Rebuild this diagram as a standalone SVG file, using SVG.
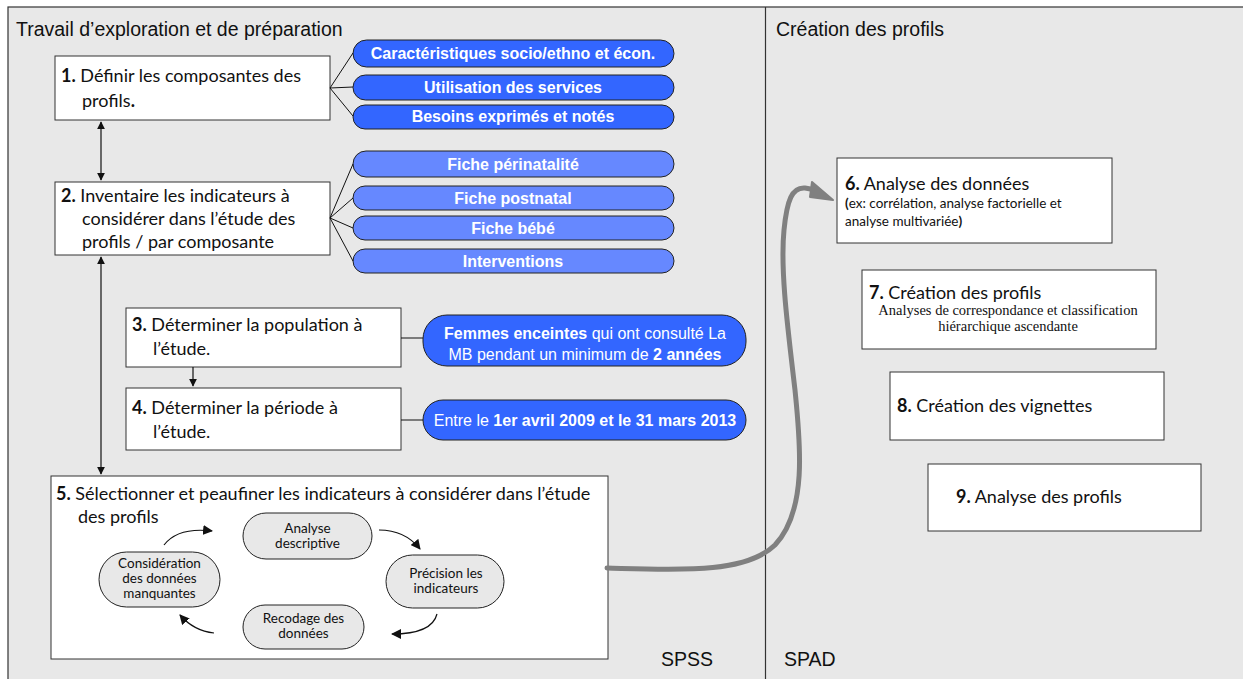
<svg xmlns="http://www.w3.org/2000/svg" width="1243" height="679" viewBox="0 0 1243 679">
<style>
.box{fill:#fff;stroke:#333;stroke-width:1}
.pd{fill:#3366ff;stroke:#222;stroke-width:1}
.pl{fill:#6688ff;stroke:#222;stroke-width:1}
.ov{fill:#e8e8e8;stroke:#222;stroke-width:1}
.t{font-family:Lato,"Open Sans",sans-serif;font-size:18px;fill:#111}
.ts{font-family:Lato,"Open Sans",sans-serif;font-size:13.5px;fill:#111}
.to{font-family:Lato,"Open Sans",sans-serif;font-size:13.5px;fill:#111;text-anchor:middle}
.pt{font-family:"Liberation Sans",Arial,sans-serif;font-size:16px;font-weight:bold;fill:#fff;text-anchor:middle}
.pn{font-family:"Liberation Sans",Arial,sans-serif;font-size:16px;fill:#fff;text-anchor:middle}
.h{font-family:"Liberation Sans",Arial,sans-serif;font-size:19.5px;fill:#111}
.serif{font-family:"Liberation Serif","Times New Roman",serif;font-size:14.5px;fill:#111;text-anchor:middle}
.ln{stroke:#111;stroke-width:1;fill:none}
.ar{stroke:#111;stroke-width:1.2;fill:none}
</style>
<defs>
<marker id="ah" viewBox="0 0 10 10" refX="9" refY="5" markerWidth="8" markerHeight="8" markerUnits="userSpaceOnUse" orient="auto-start-reverse">
<path d="M0,0 L10,5 L0,10 z" fill="#111"/>
</marker>
<marker id="ah2" viewBox="0 0 10 10" refX="9" refY="5" markerWidth="10" markerHeight="10" markerUnits="userSpaceOnUse" orient="auto">
<path d="M0,0 L10,5 L0,10 z" fill="#111"/>
</marker>
</defs>
<rect x="0" y="0" width="1243" height="679" fill="#fff"/>
<rect x="8" y="7" width="1240" height="680" fill="#e8e8e8" stroke="#333" stroke-width="1.2"/>
<line x1="765.5" y1="7" x2="765.5" y2="679" stroke="#333" stroke-width="1.2"/>
<text class="h" x="16" y="36">Travail d’exploration et de préparation</text>
<text class="h" x="776" y="36">Création des profils</text>
<text class="h" x="661" y="666">SPSS</text>
<text class="h" x="784" y="666">SPAD</text>

<g id="n1">
<rect class="box" x="55" y="56" width="275" height="64"/>
<text class="t" x="61" y="82"><tspan font-weight="bold">1.</tspan> Définir les composantes des</text>
<text class="t" x="82" y="107">profils<tspan font-weight="bold">.</tspan></text>
</g>
<g id="p1a"><rect class="pd" x="353" y="40" width="321" height="27" rx="13.5"/><text class="pt" x="513" y="59">Caractéristiques socio/ethno et écon.</text></g>
<g id="p1b"><rect class="pd" x="353" y="75" width="321" height="25" rx="12.5"/><text class="pt" x="513" y="93">Utilisation des services</text></g>
<g id="p1c"><rect class="pd" x="353" y="105" width="321" height="24" rx="12"/><text class="pt" x="513" y="122">Besoins exprimés et notés</text></g>

<g id="n2">
<rect class="box" x="55" y="182" width="275" height="73"/>
<text class="t" x="61" y="202"><tspan font-weight="bold">2.</tspan> Inventaire les indicateurs à</text>
<text class="t" x="82" y="225">considérer dans l’étude des</text>
<text class="t" x="82" y="248">profils / par composante</text>
</g>
<g id="p2a"><rect class="pl" x="353" y="151" width="321" height="26" rx="13"/><text class="pt" x="513" y="170">Fiche périnatalité</text></g>
<g id="p2b"><rect class="pl" x="353" y="186" width="321" height="24" rx="12"/><text class="pt" x="513" y="204">Fiche postnatal</text></g>
<g id="p2c"><rect class="pl" x="353" y="216" width="321" height="24" rx="12"/><text class="pt" x="513" y="234">Fiche bébé</text></g>
<g id="p2d"><rect class="pl" x="353" y="249" width="321" height="24" rx="12"/><text class="pt" x="513" y="267">Interventions</text></g>

<g id="n3">
<rect class="box" x="126" y="308" width="275" height="59"/>
<text class="t" x="132" y="331"><tspan font-weight="bold">3.</tspan> Déterminer la population à</text>
<text class="t" x="153" y="355">l’étude.</text>
</g>
<g id="p3"><rect class="pd" x="423" y="315" width="323" height="51" rx="24"/>
<text class="pn" x="585" y="339"><tspan font-weight="bold">Femmes enceintes</tspan> qui ont consulté La</text>
<text class="pn" x="585" y="360">MB pendant un minimum de <tspan font-weight="bold">2 années</tspan></text></g>

<g id="n4">
<rect class="box" x="126" y="388" width="275" height="62"/>
<text class="t" x="132" y="414"><tspan font-weight="bold">4.</tspan> Déterminer la période à</text>
<text class="t" x="153" y="438">l’étude.</text>
</g>
<g id="p4"><rect class="pd" x="423" y="400" width="323" height="40" rx="20"/>
<text class="pn" x="585" y="426">Entre le <tspan font-weight="bold">1er avril 2009 et le 31 mars 2013</tspan></text></g>

<g id="n5">
<rect class="box" x="51" y="476" width="557" height="183"/>
<text class="t" x="56" y="500"><tspan font-weight="bold">5.</tspan> Sélectionner et peaufiner les indicateurs à considérer dans l’étude</text>
<text class="t" x="78" y="523">des profils</text>
</g>
<g id="o1"><rect class="ov" x="243" y="513" width="129" height="46" rx="23"/>
<text class="to" x="307.5" y="533">Analyse</text><text class="to" x="307.5" y="548">descriptive</text></g>
<g id="o2"><rect class="ov" x="386" y="555" width="118" height="53" rx="26.5"/>
<text class="to" x="446" y="578">Précision les</text><text class="to" x="446" y="593">indicateurs</text></g>
<g id="o3"><rect class="ov" x="243" y="605" width="121" height="44" rx="22"/>
<text class="to" x="303.5" y="623">Recodage des</text><text class="to" x="303.5" y="638">données</text></g>
<g id="o4"><rect class="ov" x="99" y="552" width="121" height="55" rx="27.5"/>
<text class="to" x="159.5" y="568">Considération</text><text class="to" x="159.5" y="583">des données</text><text class="to" x="159.5" y="598">manquantes</text></g>

<g id="n6">
<rect class="box" x="837" y="158" width="275" height="85"/>
<text class="t" x="845" y="190"><tspan font-weight="bold">6.</tspan> Analyse des données</text>
<text class="ts" x="845" y="208"><tspan font-weight="bold">(</tspan>ex: corrélation, analyse factorielle et</text>
<text class="ts" x="845" y="226">analyse multivariée<tspan font-weight="bold">)</tspan></text>
</g>
<g id="n7">
<rect class="box" x="862" y="270" width="294" height="79"/>
<text class="t" x="869" y="299"><tspan font-weight="bold">7.</tspan> Création des profils</text>
<text class="serif" x="1008" y="315">Analyses de correspondance et classification</text>
<text class="serif" x="1008" y="331">hiérarchique ascendante</text>
</g>
<g id="n8">
<rect class="box" x="890" y="372" width="274" height="68"/>
<text class="t" x="897" y="412"><tspan font-weight="bold">8.</tspan> Création des vignettes</text>
</g>
<g id="n9">
<rect class="box" x="928" y="464" width="273" height="67"/>
<text class="t" x="956" y="503"><tspan font-weight="bold">9.</tspan> Analyse des profils</text>
</g>

<g id="connectors">
<path class="ln" d="M330,88 L353,53 M330,88 L353,87 M330,88 L353,116"/>
<path class="ln" d="M330,218 L353,164 M330,218 L353,198 M330,218 L353,228 M330,218 L353,261"/>
<line class="ln" x1="401" y1="338" x2="423" y2="338"/>
<line class="ln" x1="401" y1="420" x2="423" y2="420"/>
<line class="ar" x1="101" y1="122" x2="101" y2="180" marker-start="url(#ah)" marker-end="url(#ah)"/>
<line class="ar" x1="101" y1="257" x2="101" y2="474" marker-start="url(#ah)" marker-end="url(#ah)"/>
<line class="ar" x1="193" y1="367" x2="193" y2="386" marker-end="url(#ah)"/>
<path class="ar" d="M164,545 Q178,527 212,531" marker-end="url(#ah2)"/>
<path class="ar" d="M379,530 Q405,530 420,549" marker-end="url(#ah2)"/>
<path class="ar" d="M437,614 Q432,634 392,634" marker-end="url(#ah2)"/>
<path class="ar" d="M214,633 Q194,631 180,615" marker-end="url(#ah2)"/>
<path d="M607,568 C680,570 745,574 775,545 C808,510 800,440 795,390 C788,330 780,270 784,230 C787,200 792,187 805,188 L816,190" fill="none" stroke="#808080" stroke-width="5" stroke-linecap="round"/>
<path d="M812,182 L833,200 L810,197 z" fill="#808080" stroke="#808080" stroke-width="2" stroke-linejoin="round"/>
</g>
</svg>
